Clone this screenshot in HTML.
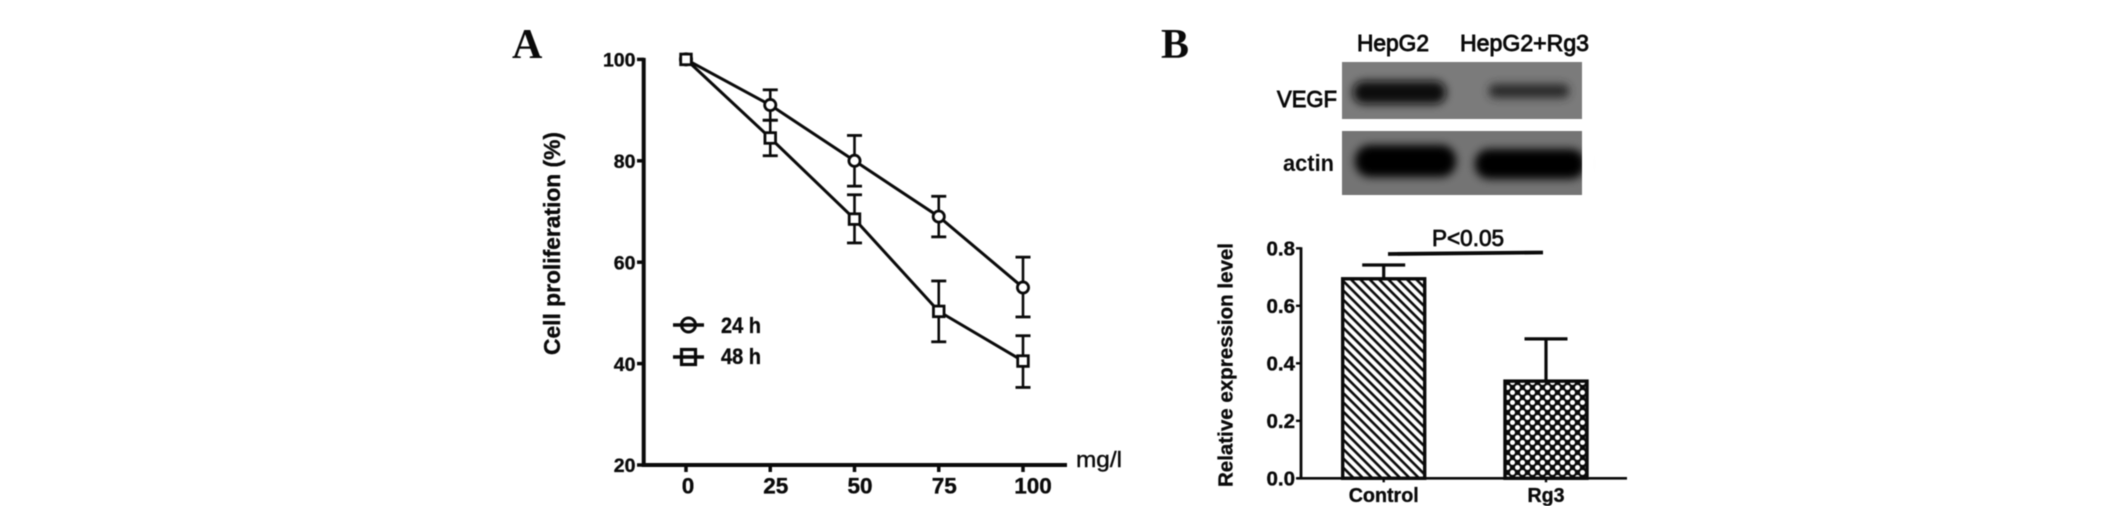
<!DOCTYPE html>
<html>
<head>
<meta charset="utf-8">
<style>
html,body{margin:0;padding:0;background:#fff;width:2126px;height:506px;overflow:hidden}
svg{display:block;filter:blur(0.5px)}
text{font-family:"Liberation Sans",sans-serif;fill:#0a0a0a}
.tick{font-weight:700;stroke:#0a0a0a;stroke-width:0.35px}
</style>
</head>
<body>
<svg id="fig" xmlns="http://www.w3.org/2000/svg" width="2126" height="506" viewBox="0 0 2126 506">
  <defs>
    <pattern id="hatch" width="6.6" height="6.6" patternUnits="userSpaceOnUse" patternTransform="rotate(45)">
      <rect width="6.6" height="6.6" fill="#fff"/>
      <rect width="6.6" height="2.6" fill="#0a0a0a"/>
    </pattern>
    <pattern id="cross" width="10" height="10" patternUnits="userSpaceOnUse">
      <rect width="10" height="10" fill="#0a0a0a"/>
      <circle cx="2.5" cy="2.5" r="2.5" fill="#fff"/>
      <circle cx="7.5" cy="7.5" r="2.5" fill="#fff"/>
    </pattern>
    <filter id="blur-band" x="-30%" y="-80%" width="160%" height="260%"><feGaussianBlur stdDeviation="4.5"/></filter>
  </defs>

  <text x="512" y="58" style="font-family:'Liberation Serif',serif;font-weight:700;font-size:42px">A</text>
  <text x="1161" y="58" style="font-family:'Liberation Serif',serif;font-weight:700;font-size:42px">B</text>

  <text x="1357" y="51" font-size="23" textLength="72" lengthAdjust="spacingAndGlyphs" stroke="#0a0a0a" stroke-width="0.9">HepG2</text>
  <text x="1460" y="51" font-size="23" textLength="129" lengthAdjust="spacingAndGlyphs" stroke="#0a0a0a" stroke-width="0.9">HepG2+Rg3</text>
  <text x="1277" y="107" font-size="23" textLength="60" lengthAdjust="spacingAndGlyphs" stroke="#0a0a0a" stroke-width="0.9">VEGF</text>
  <text x="1283" y="171" font-size="23" textLength="51" lengthAdjust="spacingAndGlyphs" font-weight="700">actin</text>

  <g>
    <rect x="1342" y="62" width="240" height="57" fill="#7b7b7b"/>
    <rect x="1353" y="81" width="93" height="23" rx="11" fill="#101010" filter="url(#blur-band)"/>
    <rect x="1489" y="84" width="80" height="14" rx="6" fill="#2a2a2a" filter="url(#blur-band)"/>
  </g>
  <g>
    <rect x="1342" y="131" width="240" height="64" fill="#747474"/>
    <rect x="1355" y="145" width="101" height="32" rx="15" fill="#000" filter="url(#blur-band)"/>
    <rect x="1475" y="149" width="110" height="30" rx="14" fill="#000" filter="url(#blur-band)"/>
    <rect x="1582" y="131" width="12" height="64" fill="#fff"/>
  </g>

  <g id="chartA"></g>
  <g id="chartB"></g>
</svg>

<script>
// Panel A data
var doses = [0, 25, 50, 75, 100];
var yTicksA = [20, 40, 60, 80, 100];
var series24h = [100, 91, 80, 69, 55];
var upper24h = [100, 94, 85, 73, 61];
var lower24h = [100, 88, 75, 65, 49.2];
var series48h = [100, 84.5, 68.5, 50.3, 40.5];
var upper48h = [100, 88, 73.3, 56.3, 45.5];
var lower48h = [100, 81, 63.8, 44.3, 35.3];

// Panel B data
var groups = ['Control', 'Rg3'];
var groupValues = [0.694, 0.338];
var groupUpper = [0.742, 0.485];
var yTicksB = [0.0, 0.2, 0.4, 0.6, 0.8];

var NS = 'http://www.w3.org/2000/svg';
var INK = '#0a0a0a';

function mk(parent, tag, attrs, txt) {
  var e = document.createElementNS(NS, tag);
  for (var k in attrs) { e.setAttribute(k, attrs[k]); }
  if (txt !== undefined) { e.textContent = txt; }
  parent.appendChild(e);
  return e;
}

function xA(v) { return 686 + v * 3.37; }
function yA(v) { return 465 - (v - 20) * 5.07; }
function xB(i) { return 1383.7 + i * 162.3; }
function yB(v) { return 478.3 - v * 287.5; }

var a = document.getElementById('chartA');
var b = document.getElementById('chartB');
var el;

// ---- Panel A axes
el = mk(a, 'line', {x1: 643.7, y1: yA(100) - 1.5, x2: 643.7, y2: yA(20) + 2, stroke: INK, 'stroke-width': 4});


el = mk(a, 'line', {x1: 642, y1: yA(20), x2: 1067, y2: yA(20), stroke: INK, 'stroke-width': 4});



yTicksA.forEach(function (t) {
  var m = mk(a, 'line', {x1: 637, y1: yA(t), x2: 644, y2: yA(t), stroke: INK, 'stroke-width': 3.5});
  
  
  var l = mk(a, 'text', {x: 635.5, y: yA(t) + 7.2, 'text-anchor': 'end', 'class': 'tick', style: 'font-size:19.5px'}, String(t));
  
  
});
doses.forEach(function (t) {
  var m = mk(a, 'line', {x1: xA(t), y1: yA(20), x2: xA(t), y2: yA(20) + 7, stroke: INK, 'stroke-width': 3.5});
  
  
  var label = String(t);
  var shift = label.length === 1 ? 2 : (label.length === 2 ? 5.5 : 10);
  var l = mk(a, 'text', {x: xA(t) + shift, y: 493.3, 'text-anchor': 'middle', 'class': 'tick', style: 'font-size:22.5px'}, label);
  
  
});

el = mk(a, 'text', {x: 0, y: 0, transform: 'translate(560,355) rotate(-90)', 'class': 'tick', style: 'font-size:23px', textLength: 223, lengthAdjust: 'spacingAndGlyphs'}, 'Cell proliferation (%)');


el = mk(a, 'text', {x: 1076, y: 467, 'font-size': 22, textLength: 46, lengthAdjust: 'spacingAndGlyphs', stroke: INK, 'stroke-width': 0.4}, 'mg/l');



function drawLine(values, upper, lower) {
  var pts = values.map(function (v, i) { return xA(doses[i]) + ',' + yA(v); }).join(' ');
  var p = mk(a, 'polyline', {points: pts, fill: 'none', stroke: INK, 'stroke-width': 3});
  
  
  values.forEach(function (v, i) {
    if (upper[i] === lower[i]) { return; }
    var x = xA(doses[i]);
    var s = mk(a, 'line', {x1: x, y1: yA(upper[i]), x2: x, y2: yA(lower[i]), stroke: INK, 'stroke-width': 2.6});
    
    
    var c1 = mk(a, 'line', {x1: x - 7.5, y1: yA(upper[i]), x2: x + 7.5, y2: yA(upper[i]), stroke: INK, 'stroke-width': 2.8});
    
    
    var c2 = mk(a, 'line', {x1: x - 7.5, y1: yA(lower[i]), x2: x + 7.5, y2: yA(lower[i]), stroke: INK, 'stroke-width': 2.8});
    
    
  });
}
drawLine(series24h, upper24h, lower24h);
drawLine(series48h, upper48h, lower48h);

series24h.forEach(function (v, i) {
  var m = mk(a, 'circle', {cx: xA(doses[i]), cy: yA(v), r: 5.6, fill: '#fff', stroke: INK, 'stroke-width': 2.8});
  
  
});
series48h.forEach(function (v, i) {
  var m = mk(a, 'rect', {x: xA(doses[i]) - 5.3, y: yA(v) - 5.3, width: 10.6, height: 10.6, fill: '#fff', stroke: INK, 'stroke-width': 2.8});
  
  
});

// Legend
el = mk(a, 'line', {x1: 673, y1: 325, x2: 704, y2: 325, stroke: INK, 'stroke-width': 3.6});


el = mk(a, 'circle', {cx: 688.5, cy: 325, r: 7, fill: 'none', stroke: INK, 'stroke-width': 3});


el = mk(a, 'text', {x: 721, y: 333, 'class': 'tick', style: 'font-size:22px', textLength: 40, lengthAdjust: 'spacingAndGlyphs'}, '24 h');


el = mk(a, 'line', {x1: 673, y1: 357, x2: 704, y2: 357, stroke: INK, 'stroke-width': 3.6});


el = mk(a, 'rect', {x: 681.5, y: 349.5, width: 14, height: 15, fill: 'none', stroke: INK, 'stroke-width': 3.2});


el = mk(a, 'text', {x: 721, y: 364, 'class': 'tick', style: 'font-size:22px', textLength: 40, lengthAdjust: 'spacingAndGlyphs'}, '48 h');



// ---- Panel B
var labelLengths = [70, 37];
groups.forEach(function (g, i) {
  var x = xB(i), w = 82;
  var stem = mk(b, 'line', {x1: x, y1: yB(groupUpper[i]), x2: x, y2: yB(groupValues[i]), stroke: INK, 'stroke-width': 3.2});
  
  
  var cap = mk(b, 'line', {x1: x - 21.5, y1: yB(groupUpper[i]), x2: x + 21.5, y2: yB(groupUpper[i]), stroke: INK, 'stroke-width': 3.2});
  
  
  var r = mk(b, 'rect', {x: x - w / 2, y: yB(groupValues[i]), width: w, height: yB(0) - yB(groupValues[i]), fill: i === 0 ? 'url(#hatch)' : 'url(#cross)', stroke: INK, 'stroke-width': 3.4});
  
  
  var t = mk(b, 'line', {x1: x, y1: yB(0), x2: x, y2: yB(0) + 4, stroke: INK, 'stroke-width': 2.4});
  
  
  var l = mk(b, 'text', {x: x - labelLengths[i] / 2, y: 502, 'class': 'tick', style: 'font-size:20px', textLength: labelLengths[i], lengthAdjust: 'spacingAndGlyphs'}, g);
  
  
});
el = mk(b, 'line', {x1: 1301, y1: yB(0.8) - 1, x2: 1301, y2: yB(0), stroke: INK, 'stroke-width': 2.8});


el = mk(b, 'line', {x1: 1297, y1: yB(0), x2: 1627, y2: yB(0), stroke: INK, 'stroke-width': 2.6});


yTicksB.forEach(function (t) {
  var m = mk(b, 'line', {x1: 1296, y1: yB(t), x2: 1301, y2: yB(t), stroke: INK, 'stroke-width': 2.4});
  
  
  var l = mk(b, 'text', {x: 1295, y: yB(t) + 7, 'text-anchor': 'end', 'class': 'tick', style: 'font-size:20.5px'}, t.toFixed(1));
  
  
});
el = mk(b, 'text', {x: 0, y: 0, transform: 'translate(1232.5,487) rotate(-90)', 'class': 'tick', style: 'font-size:20px', textLength: 244, lengthAdjust: 'spacingAndGlyphs'}, 'Relative expression level');


el = mk(b, 'line', {x1: 1388, y1: 254, x2: 1543, y2: 252.5, stroke: INK, 'stroke-width': 3.8});


el = mk(b, 'text', {x: 1432, y: 246, 'font-size': 23, textLength: 72, lengthAdjust: 'spacingAndGlyphs', stroke: INK, 'stroke-width': 0.8}, 'P<0.05');


</script>
</body>
</html>
